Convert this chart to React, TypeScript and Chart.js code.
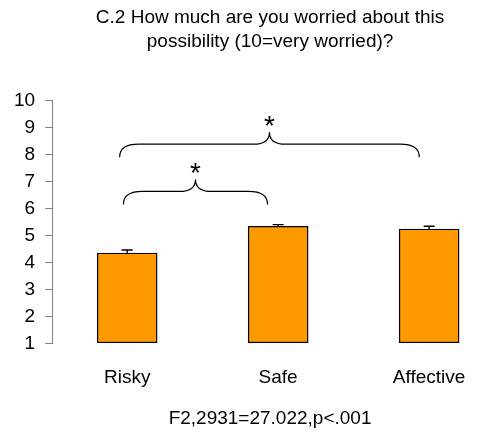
import React, { useEffect, useRef } from 'react';
import { Chart, registerables } from 'chart.js';

Chart.register(...registerables);

const titleLines = ['C.2 How much are you worried about this', 'possibility (10=very worried)?'];
const categories = ['Risky', 'Safe', 'Affective'];
const means = [4.35, 5.34, 5.24];
const errorsUp = [0.11, 0.06, 0.1];
const yTicks = [1, 2, 3, 4, 5, 6, 7, 8, 9, 10];
const note = 'F2,2931=27.022,p<.001';
// significance braces (category index span, y level of brace ends)
const braceFrom = [-0.025, -0.05];
const braceTo = [0.93, 1.935];
const braceLevel = [6.15, 7.9];
const braceMarks = ['*', '*'];

const FONT = 'Liberation Sans, Arial, Helvetica, sans-serif';

const annotations = {
  id: 'annotations',
  afterDatasetsDraw(chart: any) {
    const ctx = chart.ctx;
    const xs = chart.scales.x;
    const ys = chart.scales.y;
    ctx.save();
    // error bars (upper only)
    ctx.strokeStyle = '#000';
    ctx.lineWidth = 1.3;
    means.forEach((m, i) => {
      const x = xs.getPixelForValue(i);
      const y0 = ys.getPixelForValue(m);
      const y1 = ys.getPixelForValue(m + errorsUp[i]);
      ctx.beginPath();
      ctx.moveTo(x, y0);
      ctx.lineTo(x, y1);
      ctx.moveTo(x - 5.5, y1);
      ctx.lineTo(x + 5.5, y1);
      ctx.stroke();
    });
    // braces
    ctx.lineWidth = 1.2;
    braceFrom.forEach((from, i) => {
      const x1 = xs.getPixelForValue(from);
      const x2 = xs.getPixelForValue(braceTo[i]);
      const yE = ys.getPixelForValue(braceLevel[i]);
      const yH = yE - 13;
      const yP = yH - 12;
      const xc = (x1 + x2) / 2;
      const r = 19;
      const rc = 16;
      ctx.beginPath();
      ctx.moveTo(x1, yE);
      ctx.quadraticCurveTo(x1, yH, x1 + r, yH);
      ctx.lineTo(xc - rc, yH);
      ctx.quadraticCurveTo(xc, yH, xc, yP);
      ctx.quadraticCurveTo(xc, yH, xc + rc, yH);
      ctx.lineTo(x2 - r, yH);
      ctx.quadraticCurveTo(x2, yH, x2, yE);
      ctx.stroke();
      ctx.font = `28px ${FONT}`;
      ctx.fillStyle = '#000';
      ctx.textAlign = 'center';
      ctx.textBaseline = 'alphabetic';
      const mt = ctx.measureText(braceMarks[i]);
      const cy = yP - 11;
      const base = cy + (mt.actualBoundingBoxAscent - mt.actualBoundingBoxDescent) / 2;
      ctx.fillText(braceMarks[i], xc, base);
    });
    ctx.restore();
  },
};

export default function App() {
  const ref = useRef<HTMLCanvasElement | null>(null);
  useEffect(() => {
    if (!ref.current) return;
    const chart = new Chart(ref.current, {
      type: 'bar',
      data: {
        datasets: [
          {
            data: means.map((v, i) => ({ x: i, y: v })),
            backgroundColor: '#FF9900',
            borderColor: '#000',
            borderWidth: 1.4,
            borderSkipped: false,
            barThickness: 60,
            base: 1,
          } as any,
        ],
      },
      options: {
        animation: false,
        responsive: true,
        maintainAspectRatio: false,
        layout: { padding: { left: 4, right: 0, top: 0, bottom: 0 } },
        plugins: {
          legend: { display: false },
          tooltip: { enabled: false },
          title: {
            display: true,
            text: titleLines,
            fullSize: false,
            color: '#000',
            font: { family: FONT, size: 19, weight: 'normal', lineHeight: 1.25 },
            padding: { top: 6, bottom: 47 },
          },
          subtitle: {
            display: true,
            text: note,
            position: 'bottom',
            fullSize: false,
            color: '#000',
            font: { family: FONT, size: 19, weight: 'normal' },
            padding: { top: 3, bottom: 2 },
          },
        },
        scales: {
          x: {
            type: 'linear',
            offset: false,
            min: -0.497,
            max: 2.39,
            afterBuildTicks: (scale: any) => {
              scale.ticks = categories.map((_, i) => ({ value: i }));
            },
            ticks: {
              autoSkip: false,
              maxRotation: 0,
              padding: 15,
              color: '#000',
              font: { family: FONT, size: 19 },
              callback: (value: any) => categories[Math.round(Number(value))] ?? '',
            },
            grid: { display: false },
            border: { display: false },
          },
          y: {
            min: 1,
            max: 10,
            afterBuildTicks: (scale: any) => {
              scale.ticks = yTicks.map((v) => ({ value: v }));
            },
            ticks: {
              autoSkip: false,
              padding: 10,
              color: '#000',
              font: { family: FONT, size: 19 },
            },
            grid: {
              drawOnChartArea: false,
              drawTicks: true,
              tickLength: 7,
              color: '#808080',
              lineWidth: 1,
            },
            border: { display: true, color: '#808080', width: 1 },
          },
        },
      },
      plugins: [annotations],
    });
    return () => chart.destroy();
  }, []);

  return (
    <div style={{ position: 'fixed', left: 0, top: 0, width: 479, height: 432, overflow: 'hidden', background: '#fff' }}>
      <div style={{ position: 'relative', width: 488, height: 432 }}>
        <canvas ref={ref} />
      </div>
    </div>
  );
}
